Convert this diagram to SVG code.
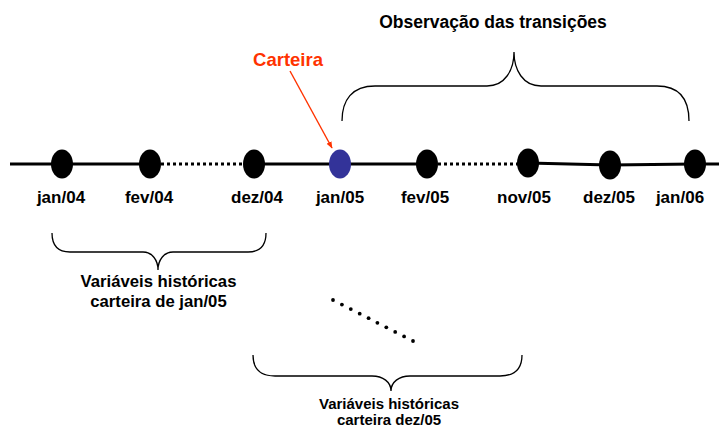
<svg xmlns="http://www.w3.org/2000/svg" width="719" height="432" viewBox="0 0 719 432">
<defs>
<style>
text{font-family:"Liberation Sans",Arial,Helvetica,sans-serif;font-weight:bold;fill:#000;text-anchor:middle}
.date{font-size:17px}
.node{fill:#000}
.line{stroke:#000;stroke-width:3;fill:none}
.dots{stroke:#000;stroke-width:3;stroke-dasharray:3 3;fill:none}
.brace{stroke:#000;stroke-width:1.3;fill:none}
</style>
<marker id="arr" viewBox="0 0 10 10" refX="9" refY="5" markerWidth="7" markerHeight="7" orient="auto" markerUnits="userSpaceOnUse">
<path d="M0,1 L10,5 L0,9 z" fill="#FF3300"/>
</marker>
</defs>
<rect width="719" height="432" fill="#fff"/>
<g id="connectors">
<path class="line" d="M10,164 H150"/>
<path class="dots" d="M161,164 H243"/>
<path class="line" d="M254,164 H427"/>
<path class="dots" d="M438,164 H518"/>
<path class="line" d="M528,163 L610,165"/>
<path class="line" d="M610,165 L695,164 H719"/>
<path d="M290,71 L332,148" stroke="#FF3300" stroke-width="1.4" fill="none" marker-end="url(#arr)"/>
</g>
<g id="n-jan04"><ellipse class="node" cx="62" cy="164" rx="11" ry="14.5"/><text class="date" x="61" y="203">jan/04</text></g>
<g id="n-fev04"><ellipse class="node" cx="150" cy="164" rx="11" ry="14.5"/><text class="date" x="149" y="203">fev/04</text></g>
<g id="n-dez04"><ellipse class="node" cx="254" cy="164" rx="11" ry="14.5"/><text class="date" x="257" y="203">dez/04</text></g>
<g id="n-jan05"><ellipse cx="340" cy="164" rx="11" ry="14.5" fill="#333399"/><text class="date" x="340" y="203">jan/05</text></g>
<g id="n-fev05"><ellipse class="node" cx="427" cy="164" rx="11" ry="14.5"/><text class="date" x="425" y="203">fev/05</text></g>
<g id="n-nov05"><ellipse class="node" cx="528" cy="163" rx="11" ry="14.5"/><text class="date" x="524" y="203">nov/05</text></g>
<g id="n-dez05"><ellipse class="node" cx="610" cy="165" rx="11" ry="14.5"/><text class="date" x="609" y="203">dez/05</text></g>
<g id="n-jan06"><ellipse class="node" cx="695" cy="164" rx="11" ry="14.5"/><text class="date" x="680" y="203">jan/06</text></g>
<g id="carteira"><text x="288" y="66" style="font-size:18.5px;fill:#FF3300">Carteira</text></g>
<g id="obs">
<path class="brace" d="M342,121 C342,100 352,86 375,86 H487 C505,86 514,70 514,52 C514,70 523,86 541,86 H657 C680,86 689,100 689,121"/>
<text x="493" y="28" style="font-size:17.5px">Observação das transições</text>
</g>
<g id="hist-jan05">
<path class="brace" d="M52,233 C52,245 58,252 70,252 H143 C152,252 158,260 158,270 C158,260 164,252 173,252 H248 C260,252 266,245 266,233"/>
<text x="158.5" y="287" style="font-size:16.7px">Variáveis históricas</text>
<text x="158.5" y="307" style="font-size:16.7px">carteira de jan/05</text>
</g>
<g id="ellipsis" fill="#000">
<circle cx="333" cy="300" r="1.9"/><circle cx="341.9" cy="304.6" r="1.9"/><circle cx="350.8" cy="309.1" r="1.9"/><circle cx="359.7" cy="313.7" r="1.9"/><circle cx="368.6" cy="318.2" r="1.9"/><circle cx="377.4" cy="322.8" r="1.9"/><circle cx="386.3" cy="327.3" r="1.9"/><circle cx="395.2" cy="331.9" r="1.9"/><circle cx="404.1" cy="336.4" r="1.9"/><circle cx="413" cy="341" r="1.9"/>
</g>
<g id="hist-dez05">
<path class="brace" d="M253,355 C253,368 260,376 275,376 H372 C383,376 391,382 391,391 C391,382 399,376 410,376 H500 C515,376 522,368 522,355"/>
<text x="389" y="409" style="font-size:15px">Variáveis históricas</text>
<text x="389" y="425" style="font-size:15px">carteira dez/05</text>
</g>
</svg>
